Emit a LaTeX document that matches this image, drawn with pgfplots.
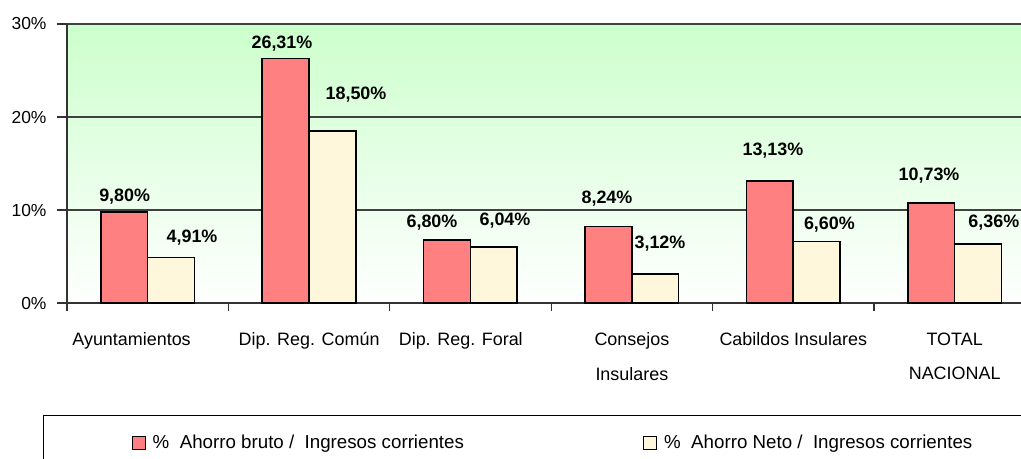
\documentclass[border=0pt]{standalone}
\usepackage{pgfplots}
\pgfplotsset{compat=1.18}
\usepackage{fontspec}
\setmainfont{Liberation Sans}
\definecolor{barred}{HTML}{FF8080}
\definecolor{barcream}{HTML}{FFF7DC}
\definecolor{bggreen}{HTML}{CCFFCC}

\pgfplotsset{
  sqlegend/.style={legend image code/.code={\draw[#1,line width=1.2bp] (0bp,-6.5bp) rectangle (13bp,6.5bp);}},
}

\begin{document}
\begin{tikzpicture}
% page: 1021 x 459 bp, axis box 954 x 279 bp with its lower left corner at the origin
\useasboundingbox (-67bp,-156bp) rectangle (954bp,303bp);
\begin{axis}[
  scale only axis, width=954bp, height=279bp,
  xmin=-0.5, xmax=5.411, ymin=0, ymax=30,
  axis x line*=bottom, axis y line*=left,
  axis line style={black!80, line width=1.3bp},
  axis background/.style={top color=bggreen, bottom color=white},
  ymajorgrids, grid style={black!75, line width=1.1bp},
  ytick={0,10,20,30},
  yticklabel={\pgfmathprintnumber{\tick}\%},
  yticklabel style={font=\fontsize{17.5}{20}\selectfont, xshift=-7bp},
  xtick={-0.1,1,1.94,3,4,5},
  xticklabels={Ayuntamientos, Dip. Reg. Común, Dip. Reg. Foral, Consejos\\Insulares, Cabildos Insulares, TOTAL\\NACIONAL},
  xticklabel style={font=\fontsize{18}{35}\selectfont, align=center, yshift=-16bp},
  minor xtick={-0.5,0.5,1.5,2.5,3.5,4.5},
  major x tick style={draw=none},
  tick align=outside, major tick length=10bp, minor tick length=8bp,
  tick style={black!80, line width=1.1bp},
  /pgf/number format/assume math mode=true,
  clip=false,
  legend columns=2,
  legend style={at={(-0.0252,-0.4014)}, anchor=north west, draw=black, line width=1.2bp,
    inner xsep=88bp, inner ysep=17.5bp, font=\fontsize{18.8}{22}\selectfont,
    /tikz/every even column/.append style={column sep=177bp}},
  legend cell align=left,
]
\addplot[ybar, bar width=0.29, bar shift=-0.145, fill=barred, draw=black, line width=1.6bp, sqlegend]
  coordinates {(0,9.80) (1,26.31) (2,6.80) (3,8.24) (4,13.13) (5,10.73)};
\addplot[ybar, bar width=0.29, bar shift=0.145, fill=barcream, draw=black, line width=1.6bp, sqlegend]
  coordinates {(0,4.91) (1,18.50) (2,6.04) (3,3.12) (4,6.60) (5,6.36)};
\addplot[draw=none, mark=none, forget plot, point meta=explicit symbolic,
  nodes near coords, nodes near coords align=center,
  every node near coord/.append style={anchor=center, font=\bfseries\fontsize{18}{21}\selectfont}]
  table[meta=lab] {
x y lab
-0.1425 11.40 9,80\%
0.2745 6.99 4,91\%
0.832 27.85 26,31\%
1.2906 22.37 18,50\%
1.7615 8.60 6,80\%
2.2138 8.82 6,04\%
2.8457 11.18 8,24\%
3.174 6.34 3,12\%
3.874 16.34 13,13\%
4.224 8.39 6,60\%
4.841 13.66 10,73\%
5.243 8.60 6,36\%
};
\legend{\hspace{5bp}\%\ \ Ahorro bruto /\ \ Ingresos corrientes, \hspace{5bp}\%\ \ Ahorro Neto /\ \ Ingresos corrientes}
\end{axis}
\end{tikzpicture}
\end{document}
